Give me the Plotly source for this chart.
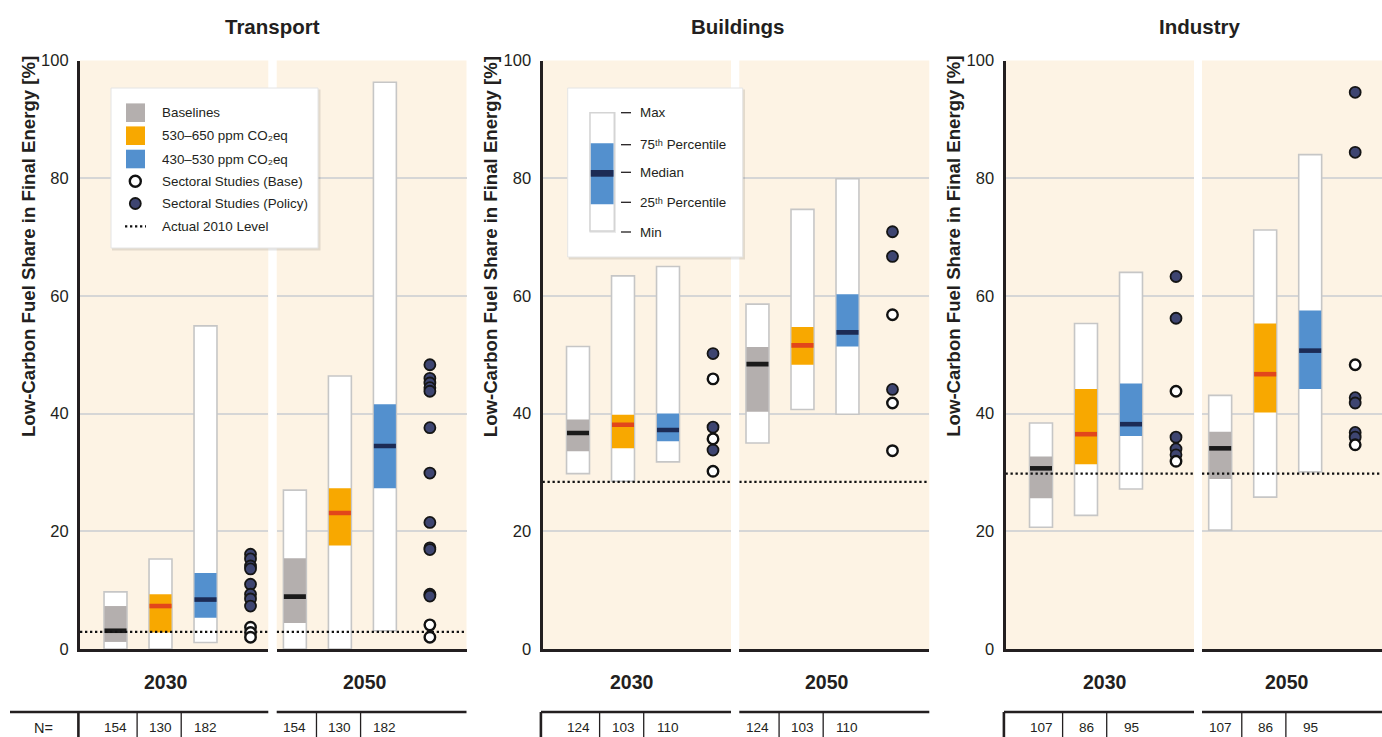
import plotly.graph_objects as go

W, H = 1382, 737
FONT = "Liberation Sans, Arial, sans-serif"
INK = "#231f20"

# ---------------- data ----------------
sectors = ["Transport", "Buildings", "Industry"]
years = ["2030", "2050"]
scenario_names = ["Baselines", "530–650 ppm CO₂eq", "430–530 ppm CO₂eq"]
scenario_pos = [1, 2, 3]
study_pos = 4

# box statistics, order: [Baselines, 530-650, 430-530]
transport_2030_min = [0.0, 0.0, 1.1]
transport_2030_q25 = [1.2, 2.8, 5.3]
transport_2030_med = [3.1, 7.3, 8.4]
transport_2030_q75 = [7.3, 9.3, 12.9]
transport_2030_max = [9.7, 15.3, 54.9]

transport_2050_min = [0.0, 0.0, 3.1]
transport_2050_q25 = [4.4, 17.6, 27.3]
transport_2050_med = [8.9, 23.1, 34.5]
transport_2050_q75 = [15.4, 27.3, 41.6]
transport_2050_max = [27.0, 46.4, 96.3]

buildings_2030_min = [29.8, 28.5, 31.8]
buildings_2030_q25 = [33.6, 34.1, 35.3]
buildings_2030_med = [36.7, 38.1, 37.2]
buildings_2030_q75 = [39.0, 39.8, 40.0]
buildings_2030_max = [51.4, 63.4, 65.0]

buildings_2050_min = [35.0, 40.7, 39.9]
buildings_2050_q25 = [40.3, 48.3, 51.4]
buildings_2050_med = [48.4, 51.6, 53.8]
buildings_2050_q75 = [51.3, 54.7, 60.3]
buildings_2050_max = [58.6, 74.7, 79.9]

industry_2030_min = [20.7, 22.7, 27.2]
industry_2030_q25 = [25.6, 31.4, 36.2]
industry_2030_med = [30.7, 36.5, 38.2]
industry_2030_q75 = [32.7, 44.2, 45.1]
industry_2030_max = [38.4, 55.3, 64.0]

industry_2050_min = [20.2, 25.8, 30.1]
industry_2050_q25 = [28.9, 40.2, 44.2]
industry_2050_med = [34.1, 46.7, 50.7]
industry_2050_q75 = [36.9, 55.3, 57.5]
industry_2050_max = [43.1, 71.2, 84.0]

# sectoral studies
transport_2030_policy = [16.1, 15.3, 14.1, 13.6, 11.0, 9.3, 8.5, 7.3]
transport_2030_base = [3.7, 2.8, 2.0]
transport_2050_policy = [48.3, 46.0, 45.2, 44.4, 43.8, 37.6, 29.9, 21.5, 17.2, 16.9, 9.3, 9.0]
transport_2050_base = [4.1, 2.0]
buildings_2030_policy = [50.2, 37.7, 33.8]
buildings_2030_base = [45.9, 35.7, 30.2]
buildings_2050_policy = [70.9, 66.7, 44.1]
buildings_2050_base = [56.8, 41.8, 33.7]
industry_2030_policy = [63.3, 56.2, 36.0, 34.0, 33.0]
industry_2030_base = [43.8, 31.9]
industry_2050_policy = [94.6, 84.4, 42.7, 41.8, 36.8, 36.0]
industry_2050_base = [48.3, 34.7]

# actual 2010 level per sector
actual_2010 = [2.9, 28.4, 29.8]

# number of scenarios
n_transport = [154, 130, 182]
n_buildings = [124, 103, 110]
n_industry = [107, 86, 95]

y_ticks = [0, 20, 40, 60, 80, 100]

legend_texts = ["Baselines", "530–650 ppm CO₂eq", "430–530 ppm CO₂eq",
                "Sectoral Studies (Base)", "Sectoral Studies (Policy)", "Actual 2010 Level"]
key_texts = ["Max", "75ᵗʰ Percentile", "Median", "25ᵗʰ Percentile", "Min"]

# ---------------- styling ----------------
BG = "#fdf3e4"
OUTLINE = "#c6c6c6"
box_colors = ["#b4afae", "#f8a800", "#5390ce"]
median_colors = ["#1a1a1a", "#e2461b", "#1c2b55"]
POLICY = "#3e4571"
GRID = "#d6d6d6"

BAR_W = 0.51
MED_H = 0.78
PX_PER_UNIT = 45.0

# panel pixel extents (left, right) and x range start
panels_px = [(80, 268.3), (276.7, 466.5), (542.5, 731), (739.3, 929.3), (1005.5, 1194), (1202, 1382)]
x_lo = {"2030": 0.211, "2050": 0.596}
Y_TOP_PX, Y_BOT_PX = 60.5, 649.0

panel_data = {
    ("Transport", "2030"): (transport_2030_min, transport_2030_q25, transport_2030_med, transport_2030_q75, transport_2030_max, transport_2030_policy, transport_2030_base),
    ("Transport", "2050"): (transport_2050_min, transport_2050_q25, transport_2050_med, transport_2050_q75, transport_2050_max, transport_2050_policy, transport_2050_base),
    ("Buildings", "2030"): (buildings_2030_min, buildings_2030_q25, buildings_2030_med, buildings_2030_q75, buildings_2030_max, buildings_2030_policy, buildings_2030_base),
    ("Buildings", "2050"): (buildings_2050_min, buildings_2050_q25, buildings_2050_med, buildings_2050_q75, buildings_2050_max, buildings_2050_policy, buildings_2050_base),
    ("Industry", "2030"): (industry_2030_min, industry_2030_q25, industry_2030_med, industry_2030_q75, industry_2030_max, industry_2030_policy, industry_2030_base),
    ("Industry", "2050"): (industry_2050_min, industry_2050_q25, industry_2050_med, industry_2050_q75, industry_2050_max, industry_2050_policy, industry_2050_base),
}
n_by_sector = {"Transport": n_transport, "Buildings": n_buildings, "Industry": n_industry}


def fx(px):
    return px / W


def fy(py):
    return 1 - py / H


def label(x, y, text, size, xref="paper", xanchor="center", angle=0):
    return dict(x=x, y=y, xref=xref, yref="paper", text=text, showarrow=False,
                xanchor=xanchor, yanchor="middle", textangle=angle,
                font=dict(family=FONT, size=size, color=INK))


fig = go.Figure()
layout_axes = {}
shapes = []
annotations = []

idx = 0
for si, sector in enumerate(sectors):
    for yi, year in enumerate(years):
        idx += 1
        xa = "x" if idx == 1 else f"x{idx}"
        ya = "y" if idx == 1 else f"y{idx}"
        xname = "xaxis" if idx == 1 else f"xaxis{idx}"
        yname = "yaxis" if idx == 1 else f"yaxis{idx}"
        left, right = panels_px[idx - 1]
        lo = x_lo[year]
        hi = lo + (right - left) / PX_PER_UNIT
        mn, q1, md, q3, mx, pol, base = panel_data[(sector, year)]

        # whole range (min..max) bars
        fig.add_trace(go.Bar(
            x=scenario_pos, y=[b - a for a, b in zip(mn, mx)], base=mn, width=BAR_W,
            marker=dict(color="white", line=dict(color=OUTLINE, width=1.6)),
            xaxis=xa, yaxis=ya, showlegend=False, hoverinfo="skip"))
        # interquartile boxes
        fig.add_trace(go.Bar(
            x=scenario_pos, y=[b - a for a, b in zip(q1, q3)], base=q1, width=BAR_W - 0.02,
            marker=dict(color=box_colors, line=dict(width=0)),
            xaxis=xa, yaxis=ya, showlegend=False, hoverinfo="skip"))
        # medians
        fig.add_trace(go.Bar(
            x=scenario_pos, y=[MED_H] * 3, base=[m - MED_H / 2 for m in md], width=BAR_W - 0.02,
            marker=dict(color=median_colors, line=dict(width=0)),
            xaxis=xa, yaxis=ya, showlegend=False, hoverinfo="skip"))
        # actual 2010 level
        lvl = actual_2010[si]
        fig.add_trace(go.Scatter(
            x=[lo, hi], y=[lvl, lvl], mode="lines",
            line=dict(color="#111111", width=2.3, dash="2.3px,2.7px"),
            xaxis=xa, yaxis=ya, showlegend=False, hoverinfo="skip", cliponaxis=False))
        # sectoral studies
        fig.add_trace(go.Scatter(
            x=[study_pos] * len(pol), y=pol, mode="markers",
            marker=dict(size=11, color=POLICY, line=dict(color="#151515", width=1.8)),
            xaxis=xa, yaxis=ya, showlegend=False, hoverinfo="skip"))
        fig.add_trace(go.Scatter(
            x=[study_pos] * len(base), y=base, mode="markers",
            marker=dict(size=10.5, color="white", line=dict(color="#111111", width=2.4)),
            xaxis=xa, yaxis=ya, showlegend=False, hoverinfo="skip"))

        first = (year == "2030")
        layout_axes[xname] = dict(
            domain=[fx(left), fx(right)], range=[lo, hi], anchor=ya,
            showgrid=False, zeroline=False, showticklabels=False, ticks="",
            showline=True, linecolor=INK, linewidth=3.2, fixedrange=True)
        layout_axes[yname] = dict(
            domain=[fy(Y_BOT_PX), fy(Y_TOP_PX)], range=[0, 100], anchor=xa,
            tickvals=y_ticks, ticktext=[str(t) for t in y_ticks],
            showgrid=True, gridcolor=GRID, gridwidth=1.5, zeroline=False,
            showticklabels=first, ticks="", ticklabelstandoff=5,
            tickfont=dict(family=FONT, size=16.5, color=INK),
            showline=first, linecolor=INK, linewidth=3.2, fixedrange=True)

        # year label
        year_x = [166.3, 364.7, 631.7, 827.3, 1105, 1287.3][idx - 1]
        annotations.append(label(fx(year_x), fy(682), f"<b>{year}</b>", 19.5))
        # N table
        tl = 10 if idx == 1 else left - (1.5 if first else 0)
        shapes.append(dict(type="line", xref="paper", yref="paper",
                           x0=fx(tl), x1=fx(right), y0=fy(712), y1=fy(712),
                           line=dict(color=INK, width=2.6)))
        if first:
            shapes.append(dict(type="line", xref="paper", yref="paper",
                               x0=fx(left - 1.6), x1=fx(left - 1.6), y0=fy(712), y1=fy(737),
                               line=dict(color=INK, width=2.6)))
        for dv in (1.48, 2.46):
            shapes.append(dict(type="line", xref=xa, yref="paper",
                               x0=dv, x1=dv, y0=fy(712), y1=fy(737),
                               line=dict(color=INK, width=1.3)))
        for p, n in zip(scenario_pos, n_by_sector[sector]):
            annotations.append(label(p, fy(727), str(n), 13.6, xref=xa))

    # sector title and y-axis title
    title_x = [272, 737, 1199][si]
    annotations.append(label(fx(title_x), fy(27), f"<b>{sector}</b>", 20.5))
    ytitle_x = [28.5, 490.7, 953.3][si]
    annotations.append(label(fx(ytitle_x), fy(246.5),
                             "<b>Low-Carbon Fuel Share in Final Energy [%]</b>", 18.6, angle=-90))

annotations.append(label(fx(43), fy(728), "N=", 14.5))


def rect(x0, y0, x1, y1, fill, line_color=None, line_width=0, layer="above"):
    return dict(type="rect", xref="paper", yref="paper", layer=layer,
                x0=fx(x0), x1=fx(x1), y0=fy(y1), y1=fy(y0), fillcolor=fill,
                line=dict(color=line_color or fill, width=line_width))


LEG_SIZE = 13.4

# ---- legend 1 (Transport) ----
shapes.append(rect(112, 89.5, 320.5, 250.5, "rgba(0,0,0,0.10)"))
shapes.append(rect(111, 88, 318, 248, "white", "#e4e4e4", 1))
leg_rows = [112.7, 135.7, 159, 181.5, 203.5, 226.3]
for c, yc in zip(box_colors, leg_rows[:3]):
    shapes.append(rect(126, yc - 9.3, 145, yc + 9.3, c))
shapes.append(dict(type="circle", xref="paper", yref="paper",
                   x0=fx(129.8), x1=fx(140.8), y0=fy(186.7), y1=fy(175.7),
                   fillcolor="white", line=dict(color="#111111", width=2.4)))
shapes.append(dict(type="circle", xref="paper", yref="paper",
                   x0=fx(129.8), x1=fx(140.8), y0=fy(209), y1=fy(198),
                   fillcolor=POLICY, line=dict(color="#151515", width=1.8)))
shapes.append(dict(type="line", xref="paper", yref="paper",
                   x0=fx(125), x1=fx(146), y0=fy(226.3), y1=fy(226.3),
                   line=dict(color="#111111", width=2.3, dash="2.3px,2.7px")))
for t, yc in zip(legend_texts, leg_rows):
    annotations.append(label(fx(160), fy(yc), t, LEG_SIZE, xanchor="left"))

# ---- legend 2 (box key) ----
shapes.append(rect(568.7, 89.5, 745, 259.5, "rgba(0,0,0,0.10)"))
shapes.append(rect(567.7, 88, 742.7, 257, "white", "#e4e4e4", 1))
shapes.append(rect(589.5, 112, 616, 233, "rgba(0,0,0,0.08)"))
shapes.append(rect(590, 112.7, 614.3, 231, "white", "#d4d4d4", 1.5))
shapes.append(rect(590.8, 143.3, 613.5, 204.3, box_colors[2]))
shapes.append(rect(590.8, 170, 613.5, 176.7, median_colors[2]))
key_rows = [112.7, 144.7, 172.3, 202.3, 232]
for t, yc in zip(key_texts, key_rows):
    shapes.append(dict(type="line", xref="paper", yref="paper",
                       x0=fx(621), x1=fx(631), y0=fy(yc), y1=fy(yc),
                       line=dict(color=INK, width=1.3)))
    annotations.append(label(fx(638), fy(yc), t, LEG_SIZE, xanchor="left"))

fig.update_layout(
    width=W, height=H, template="none",
    margin=dict(l=0, r=0, t=0, b=0, pad=0),
    paper_bgcolor="white", plot_bgcolor=BG,
    barmode="overlay", showlegend=False,
    font=dict(family=FONT, color=INK),
    shapes=shapes, annotations=annotations,
    **layout_axes,
)

fig.write_html("out.html", config={"displayModeBar": False},
               post_script="document.body.style.margin='0';document.body.style.overflow='hidden';")
